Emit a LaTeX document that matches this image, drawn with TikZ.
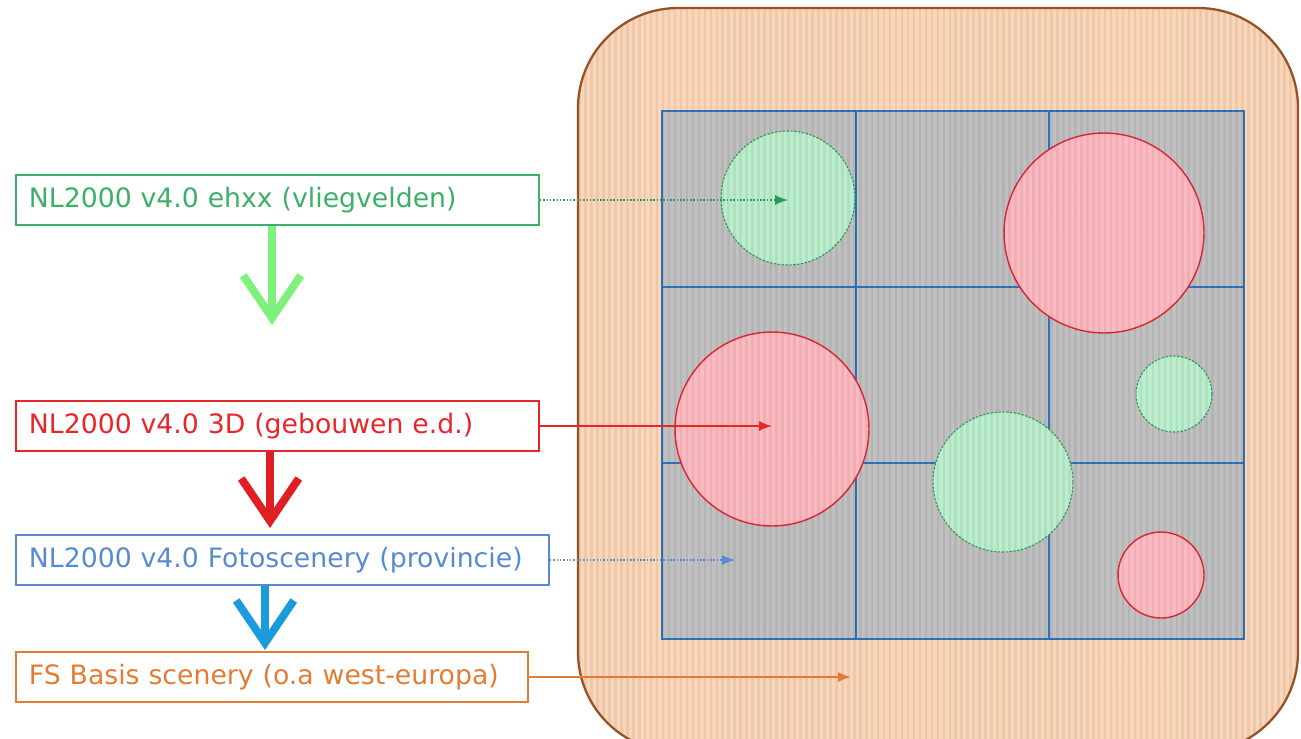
\documentclass[tikz,border=0pt]{standalone}
\usepackage{fontspec}
\setmainfont{DejaVu Sans}
\usetikzlibrary{arrows.meta}
\usetikzlibrary{patterns.meta}
\definecolor{peach}{RGB}{251,214,184}
\definecolor{brownline}{RGB}{150,82,38}
\definecolor{tilegray}{RGB}{192,192,192}
\definecolor{gridblue}{RGB}{45,115,190}
\definecolor{gfill}{RGB}{186,238,205}
\definecolor{gline}{RGB}{50,150,90}
\definecolor{rfill}{RGB}{252,186,192}
\definecolor{rline}{RGB}{220,40,55}
\definecolor{gtext}{RGB}{60,175,105}
\definecolor{rtext}{RGB}{232,38,42}
\definecolor{btext}{RGB}{88,138,210}
\definecolor{otext}{RGB}{226,124,52}
\definecolor{garrow}{RGB}{125,240,125}
\definecolor{rarrow}{RGB}{225,30,35}
\definecolor{barrow}{RGB}{25,155,220}
\tikzset{
    layerbox/.style={draw=#1, text=#1, line width=1.1pt, anchor=west,
        minimum height=1cm, inner xsep=0.26cm, align=left,
        font=\fontsize{15.2}{17}\selectfont},
    gcirc/.style={circle, draw=gline, fill=gfill, line width=0.6pt,
        dash pattern=on 1.4pt off 0.8pt},
    rcirc/.style={circle, draw=rline, fill=rfill, line width=0.8pt},
    bigdown/.style={line width=4.5pt,
        -{Straight Barb[length=0.85cm, width=1.15cm]}},
    thinarrow/.style={line width=0.9pt, -{Latex[length=2.6mm, width=2mm]}}
}
\begin{document}
\begin{tikzpicture}[x=0.02cm, y=-0.02cm]
    \useasboundingbox (0,0) rectangle (1301,738);

    % scenery area
    \fill[peach, rounded corners=2cm] (578,8) rectangle (1298,752);
    \fill[tilegray] (662,111) rectangle (1244,639);

    % grid
    \draw[gridblue, line width=1.1pt] (662,111) rectangle (1244,639);
    \draw[gridblue, line width=1.1pt] (856,111) -- (856,639);
    \draw[gridblue, line width=1.1pt] (1049,111) -- (1049,639);
    \draw[gridblue, line width=1.1pt] (662,287) -- (1244,287);
    \draw[gridblue, line width=1.1pt] (662,463) -- (1244,463);

    \node[gcirc, minimum size=2.68cm] (ehxxa) at (788,198) {};
    \node[rcirc, minimum size=4.0cm] (bldga) at (1104,233) {};
    \node[rcirc, minimum size=3.88cm] (bldgb) at (772,429) {};
    \node[gcirc, minimum size=1.52cm] (ehxxb) at (1174,394) {};
    \node[gcirc, minimum size=2.8cm] (ehxxc) at (1003,482) {};
    \node[rcirc, minimum size=1.72cm] (bldgc) at (1161,575) {};

    % stripes
    \begin{scope}
        \clip[rounded corners=2cm] (578,8) rectangle (1298,752);
        \fill[pattern={Lines[angle=90, distance=3.4pt, line width=1.5pt]},
            pattern color=black, opacity=0.06] (578,8) rectangle (1298,752);
    \end{scope}

    \draw[brownline, line width=1.3pt, rounded corners=2cm]
        (578,8) rectangle (1298,752);

    % layers
    \node[layerbox=gtext, text width=9.94cm] (ehxx) at (15,200)
        {NL2000 v4.0 ehxx (vliegvelden)};
    \node[layerbox=rtext, text width=9.94cm] (threed) at (15,426)
        {NL2000 v4.0 3D (gebouwen e.d.)};
    \node[layerbox=btext, text width=10.14cm] (foto) at (15,560)
        {NL2000 v4.0 Fotoscenery (provincie)};
    \node[layerbox=otext, text width=9.72cm] (basis) at (15,677)
        {FS Basis scenery (o.a west-europa)};

    \coordinate (gtip) at (272,325);
    \coordinate (rtip) at (270,528);
    \coordinate (btip) at (265,650);
    \coordinate (fotoend) at (735,560);
    \coordinate (basisend) at (851,677);

    % arrows
    \draw[bigdown, garrow] (ehxx.south -| gtip) -- (gtip);
    \draw[bigdown, rarrow] (threed.south -| rtip) -- (rtip);
    \draw[bigdown, barrow] (foto.south -| btip) -- (btip);

    \draw[thinarrow, gline, densely dotted] (ehxx.east) -- (ehxx.east -| ehxxa.center);
    \draw[thinarrow, rtext] (threed.east) -- (threed.east -| bldgb.center);
    \draw[thinarrow, btext, densely dotted] (foto.east) -- (fotoend);
    \draw[thinarrow, otext] (basis.east) -- (basisend);
\end{tikzpicture}
\end{document}
